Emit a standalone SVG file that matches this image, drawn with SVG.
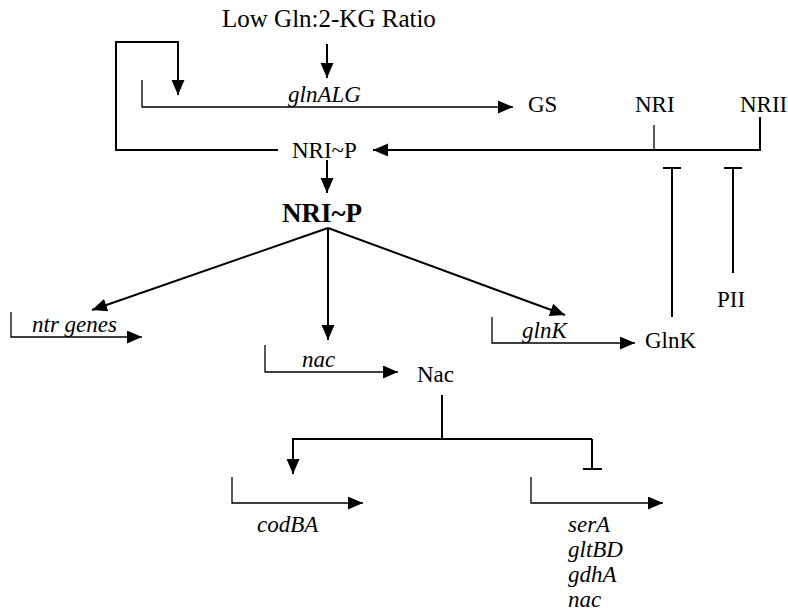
<svg xmlns="http://www.w3.org/2000/svg" width="788" height="612" viewBox="0 0 788 612">
<style>
text{font-family:"Liberation Serif","Times New Roman",serif;font-size:23px;fill:#000}
.i{font-style:italic}
.t{font-size:25px}
.b{font-weight:bold;font-size:27px}
.ln{fill:none;stroke:#000;stroke-width:2}
.th{fill:none;stroke:#000;stroke-width:1.3}
.ar{marker-end:url(#ah)}
</style>
<defs>
<marker id="ah" markerUnits="userSpaceOnUse" markerWidth="16" markerHeight="14" refX="15" refY="6.5" orient="auto">
<path d="M0,0 L15,6.5 L0,13 z" fill="#000"/>
</marker>
</defs>
<rect width="788" height="612" fill="#fff"/>
<g id="nodes">
<g id="ratio"><text class="t" x="222" y="27">Low Gln:2-KG Ratio</text></g>
<g id="glnALG"><text class="i" x="288" y="102">glnALG</text></g>
<g id="GS"><text x="528" y="112">GS</text></g>
<g id="NRI"><text x="635" y="112">NRI</text></g>
<g id="NRII"><text x="740" y="112">NRII</text></g>
<g id="NRIP1"><text x="292" y="158">NRI~P</text></g>
<g id="NRIP2"><text class="b" x="282" y="222">NRI~P</text></g>
<g id="PII"><text x="717" y="307">PII</text></g>
<g id="ntr"><text class="i" x="32" y="332">ntr genes</text></g>
<g id="glnK"><text class="i" x="522" y="338">glnK</text></g>
<g id="GlnKp"><text x="645" y="348">GlnK</text></g>
<g id="nacg"><text class="i" x="302" y="367">nac</text></g>
<g id="Nac"><text x="417" y="382">Nac</text></g>
<g id="codBA"><text class="i" x="257" y="532">codBA</text></g>
<g id="repressed">
<text class="i" x="568" y="532">serA</text>
<text class="i" x="568" y="557">gltBD</text>
<text class="i" x="568" y="582">gdhA</text>
<text class="i" x="568" y="607">nac</text>
</g>
</g>
<g id="connectors">
<path class="ln ar" d="M327,44 V78"/>
<path class="ln ar" d="M278,150 H116 V42 H178 V95"/>
<path class="th ar" d="M142,80 V107 H513"/>
<path class="th" d="M654,125 V150"/>
<path class="ln ar" d="M760,117 V150 H373"/>
<path class="ln ar" d="M327,160 V193"/>
<path class="ln" d="M672,317 V168 M663,168 H681"/>
<path class="ln" d="M733,273 V168 M724,168 H742"/>
<path class="ln ar" d="M328,228 L92,310"/>
<path class="ln ar" d="M328,228 V340"/>
<path class="ln ar" d="M328,228 L565,315"/>
<path class="th ar" d="M11,312 V337 H142"/>
<path class="th ar" d="M265,345 V372 H398"/>
<path class="th ar" d="M492,317 V343 H635"/>
<path class="ln" d="M442,395 V439"/>
<path class="ln ar" d="M592,439 H293 V474"/>
<path class="ln" d="M592,439 V469 M583,469 H602"/>
<path class="th ar" d="M232,477 V503 H363"/>
<path class="th ar" d="M531,477 V503 H663"/>
</g>
</svg>
